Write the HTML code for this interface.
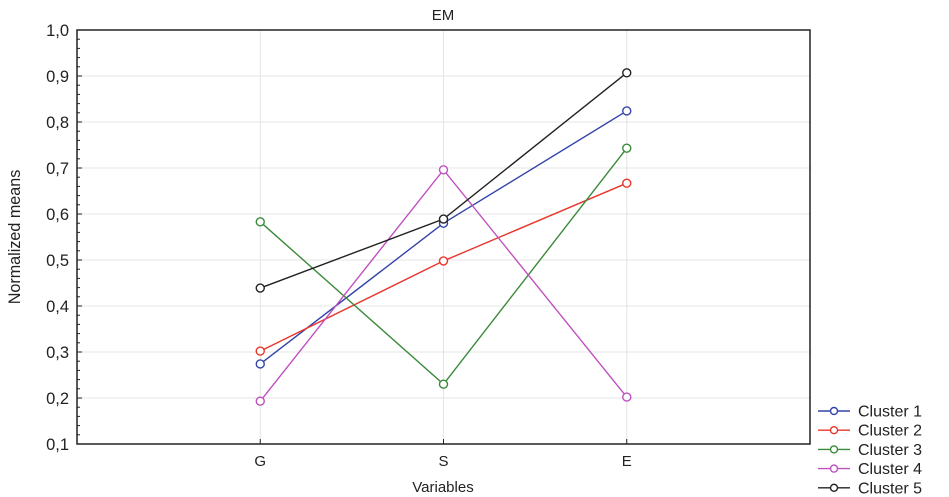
<!DOCTYPE html>
<html><head><meta charset="utf-8"><style>
html,body{margin:0;padding:0;background:#fff;width:949px;height:497px;overflow:hidden}
text{font-family:"Liberation Sans",sans-serif;fill:#222}
</style></head><body>
<svg id="chart" width="949" height="497"></svg>
<script>
const categories = ["G","S","E"];
const seriesNames = ["Cluster 1","Cluster 2","Cluster 3","Cluster 4","Cluster 5"];
const cluster1 = [0.274, 0.580, 0.824];
const cluster2 = [0.302, 0.498, 0.667];
const cluster3 = [0.583, 0.230, 0.743];
const cluster4 = [0.193, 0.696, 0.202];
const cluster5 = [0.439, 0.589, 0.907];
const yTicks = [0.1,0.2,0.3,0.4,0.5,0.6,0.7,0.8,0.9,1.0];
const yTickLabels = ["0,1","0,2","0,3","0,4","0,5","0,6","0,7","0,8","0,9","1,0"];

const colors = ["#3344aa","#e8362c","#3a8a3a","#c050c0","#222222"];
const series = [cluster1,cluster2,cluster3,cluster4,cluster5];
const L=77,R=810,T=30,B=444;
const x = i => L + (R-L)*(i+1)/(categories.length+1);
const y = v => B - (v-0.1)/(1.0-0.1)*(B-T);
const svg=document.getElementById('chart');
const NS="http://www.w3.org/2000/svg";
function mk(tag,attrs,parent){const e=document.createElementNS(NS,tag);for(const k in attrs)e.setAttribute(k,attrs[k]);(parent||svg).appendChild(e);return e;}

yTicks.forEach((v,i)=>{
  if(i>0&&i<yTicks.length-1){const g=mk('line',{x1:L,x2:R,y1:y(v),y2:y(v),stroke:'#e4e4e4','stroke-width':1});
  
  }
  const t=mk('text',{x:L-8,y:y(v)+6,'text-anchor':'end','font-size':16.5});
  t.textContent=yTickLabels[i];
  
  
  mk('line',{x1:L,x2:L+5,y1:y(v),y2:y(v),stroke:'#222'});
  if(i<yTicks.length-1){for(let k=1;k<5;k++){const yy=y(v+0.02*k);mk('line',{x1:L,x2:L+3,y1:yy,y2:yy,stroke:'#222'});}}
});
categories.forEach((c,i)=>{
  const g=mk('line',{x1:x(i),x2:x(i),y1:T,y2:B,stroke:'#e4e4e4'});
  
  
  mk('line',{x1:x(i),x2:x(i),y1:B,y2:B-5,stroke:'#222'});
  const t=mk('text',{x:x(i),y:B+22,'text-anchor':'middle','font-size':15});
  t.textContent=c;
  
  
});
const frame=mk('rect',{x:L,y:T,width:R-L,height:B-T,fill:'none',stroke:'#222','stroke-width':1.5});



series.forEach((d,s)=>{
  const g=mk('g',{});
  
  
  const pl=mk('polyline',{points:d.map((v,i)=>x(i)+','+y(v)).join(' '),fill:'none',stroke:colors[s],'stroke-width':1.4},g);
  
  
  d.forEach((v,i)=>{
    const c=mk('circle',{cx:x(i),cy:y(v),r:4,fill:'#fff',stroke:colors[s],'stroke-width':1.4},g);
    
    
  });
  const ly=411+s*19.2;
  const lg=mk('g',{},svg);
  
  
  mk('line',{x1:818,x2:850,y1:ly,y2:ly,stroke:colors[s],'stroke-width':1.4},lg);
  mk('circle',{cx:834,cy:ly,r:3.5,fill:'#fff',stroke:colors[s],'stroke-width':1.4},lg);
  const t=mk('text',{x:858,y:ly+5.5,'font-size':16},lg);
  t.textContent=seriesNames[s];
});

const title=mk('text',{x:443,y:20,'text-anchor':'middle','font-size':15});
title.textContent="EM";


const xt=mk('text',{x:443,y:492,'text-anchor':'middle','font-size':15});
xt.textContent="Variables";


const yt=mk('text',{x:0,y:0,'text-anchor':'middle','font-size':17,transform:'translate(20,237) rotate(-90) scale(0.95,1)'});
yt.textContent="Normalized means";


</script>
</body></html>
